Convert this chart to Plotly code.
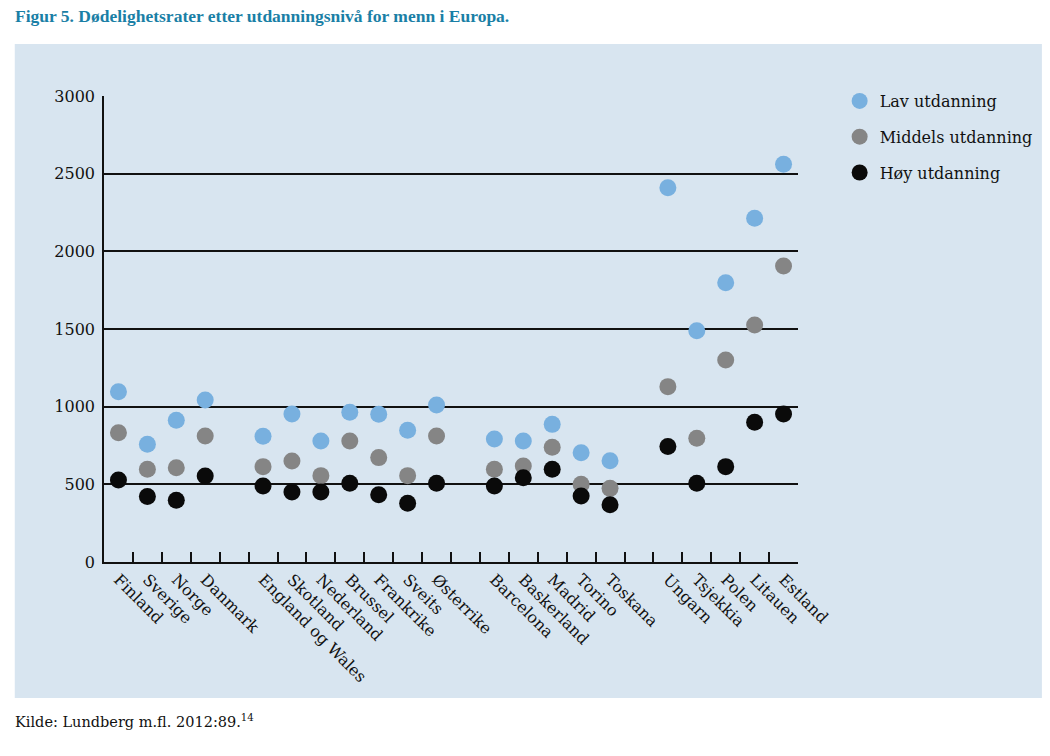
import plotly.graph_objects as go

categories = ["Finland", "Sverige", "Norge", "Danmark", " ",
              "England og Wales", "Skotland", "Nederland", "Brussel", "Frankrike", "Sveits", "Østerrike", "  ",
              "Barcelona", "Baskerland", "Madrid", "Torino", "Toskana", "   ",
              "Ungarn", "Tsjekkia", "Polen", "Litauen", "Estland"]

countries = ["Finland", "Sverige", "Norge", "Danmark",
             "England og Wales", "Skotland", "Nederland", "Brussel", "Frankrike", "Sveits", "Østerrike",
             "Barcelona", "Baskerland", "Madrid", "Torino", "Toskana",
             "Ungarn", "Tsjekkia", "Polen", "Litauen", "Estland"]

lav = [1096, 758, 912, 1043,
       809, 953, 779, 964, 951, 848, 1011,
       792, 779, 886, 704, 652,
       2410, 1489, 1798, 2213, 2560]
middels = [832, 597, 607, 811,
           614, 650, 556, 779, 672, 556, 811,
           597, 618, 738, 500, 474,
           1129, 796, 1300, 1526, 1906]
hoy = [528, 421, 397, 554,
       489, 451, 451, 507, 433, 378, 507,
       489, 543, 597, 425, 369,
       743, 507, 614, 899, 953]

series_names = ["Lav utdanning", "Middels utdanning", "Høy utdanning"]
series_values = [lav, middels, hoy]
series_colors = ["#78b0df", "#858585", "#0a0a0a"]

y_ticks = [0, 500, 1000, 1500, 2000, 2500, 3000]

SERIF = "DejaVu Serif"

fig = go.Figure()
for i, (name, vals, col) in enumerate(zip(series_names, series_values, series_colors)):
    fig.add_trace(go.Scatter(
        x=countries, y=vals, mode="markers", name=name,
        legendgroup=f"g{i}",
        marker=dict(size=17, color=col, line=dict(width=0)),
    ))

W, H = 1050, 756
L, R, T, B = 104, 804, 96, 562
pw, ph = R - L, B - T

def px(x):
    return (x - L) / pw

def py(y):
    return (B - y) / ph

fig.add_shape(type="rect", xref="paper", yref="paper",
              x0=px(14), x1=px(1050), y0=py(698), y1=py(44),
              fillcolor="#d8e5f0", line=dict(width=0), layer="below")

fig.update_layout(
    width=W, height=H, autosize=False,
    margin=dict(l=L, r=W - R, t=T, b=H - B),
    paper_bgcolor="white", plot_bgcolor="rgba(0,0,0,0)",
    font=dict(family=SERIF, size=16, color="#111111"),
    showlegend=True,
    legend=dict(x=px(846), y=py(84), xanchor="left", yanchor="top",
                bgcolor="rgba(0,0,0,0)", font=dict(family=SERIF, size=16, color="#111111"),
                tracegroupgap=12, itemsizing="trace"),
    xaxis=dict(type="category", categoryorder="array", categoryarray=categories,
               range=[-0.5, len(categories) - 0.5],
               showline=True, linecolor="#111111", linewidth=2,
               ticks="inside", tickson="boundaries", ticklen=10, tickwidth=1.5, tickcolor="#111111",
               tickangle=45, showgrid=False, zeroline=False,
               tickfont=dict(family=SERIF, size=16, color="#111111")),
    yaxis=dict(range=[0, 3000], tickvals=y_ticks, ticktext=[str(v) for v in y_ticks],
               showline=True, linecolor="#111111", linewidth=1.5,
               showgrid=True, gridcolor="#111111", gridwidth=1.5,
               zeroline=False, ticks="", ticklabelstandoff=4,
               tickfont=dict(family=SERIF, size=16, color="#111111")),
)

fig.add_annotation(xref="paper", yref="paper", x=px(12), y=py(16), xanchor="left", yanchor="middle",
                   text="<b>Figur 5. Dødelighetsrater etter utdanningsnivå for menn i Europa.</b>",
                   showarrow=False, font=dict(family="Liberation Serif", size=17.5, color="#1a7fa6"))
fig.add_annotation(xref="paper", yref="paper", x=px(12), y=py(721), xanchor="left", yanchor="middle",
                   text="Kilde: Lundberg m.fl. 2012:89.<sup>14</sup>",
                   showarrow=False, font=dict(family=SERIF, size=14.5, color="#111111"))

fig.write_html("out.html", config={"displayModeBar": False},
               post_script="document.body.style.margin='0';document.body.style.overflow='hidden';")
